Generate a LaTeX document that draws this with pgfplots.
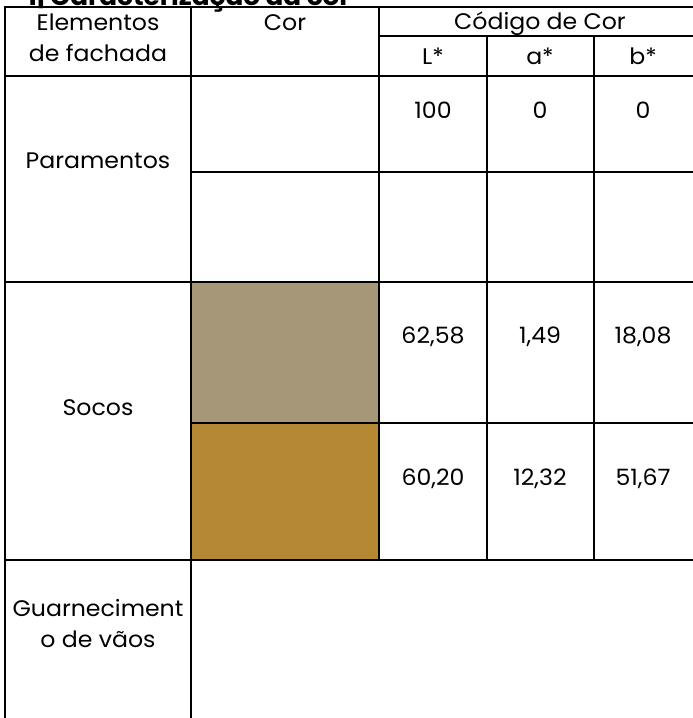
\documentclass[border=0pt]{standalone}
\usepackage{pgfplots}
\pgfplotsset{compat=1.18}
\usepackage{fontspec}
\setmainfont{Poppins}[FakeStretch=1.05]
\definecolor{swA}{RGB}{165,151,120}
\definecolor{swB}{RGB}{181,136,51}
\newcommand\f{\fontsize{22.5}{26}\selectfont}
\begin{document}
\begin{tikzpicture}
\begin{axis}[
  width=693pt, height=718pt, scale only axis,
  xmin=0, xmax=693, ymin=0, ymax=718, y dir=reverse,
  hide axis, clip=true,
]
% background
\addplot[fill=white, draw=none] coordinates {(0,0) (693,0) (693,718) (0,718)} -- cycle;
% colour swatches
\addplot[fill=swA, draw=none] coordinates {(191,282) (380,282) (380,423) (191,423)} -- cycle;
\addplot[fill=swB, draw=none] coordinates {(191,423) (380,423) (380,560) (191,560)} -- cycle;
% grid lines
\pgfplotsset{every axis plot/.append style={line width=2.4pt, black}}
\addplot[no marks] coordinates {(5,7) (5,718)};
\addplot[no marks] coordinates {(191,7) (191,718)};
\addplot[no marks] coordinates {(379,7) (379,560)};
\addplot[no marks] coordinates {(487,36) (487,560)};
\addplot[no marks] coordinates {(594,36) (594,560)};
\addplot[no marks] coordinates {(4,7) (693,7)};
\addplot[no marks] coordinates {(379,36) (693,36)};
\addplot[no marks] coordinates {(4,76) (693,76)};
\addplot[no marks] coordinates {(191,172) (693,172)};
\addplot[no marks] coordinates {(4,282) (693,282)};
\addplot[no marks] coordinates {(191,423) (693,423)};
\addplot[no marks] coordinates {(4,560) (693,560)};
% title (clipped at top, as in the reference)
\node[anchor=base west, inner sep=0pt] at (axis cs:27,5) {\fontsize{25}{28}\selectfont\bfseries 1| Caracterização da cor};
% header
\node[anchor=base, inner sep=0pt] at (axis cs:98,30) {\f Elementos};
\node[anchor=base, inner sep=0pt] at (axis cs:98,61) {\f de fachada};
\node[anchor=base, inner sep=0pt] at (axis cs:285,30) {\f Cor};
\node[anchor=base, inner sep=0pt] at (axis cs:540,29) {\f Código de Cor};
\node[anchor=base, inner sep=0pt] at (axis cs:433,64) {\f L*};
\node[anchor=base, inner sep=0pt] at (axis cs:540,64) {\f a*};
\node[anchor=base, inner sep=0pt] at (axis cs:643,64) {\f b*};
% row labels
\node[inner sep=0pt] at (axis cs:98,161) {\f Paramentos};
\node[inner sep=0pt] at (axis cs:98,408) {\f Socos};
\node[inner sep=0pt] at (axis cs:98,608) {\f Guarneciment};
\node[inner sep=0pt] at (axis cs:98,639) {\f o de vãos};
% values
\node[inner sep=0pt] at (axis cs:433,110) {\f 100};
\node[inner sep=0pt] at (axis cs:540,110) {\f 0};
\node[inner sep=0pt] at (axis cs:643,110) {\f 0};
\node[inner sep=0pt] at (axis cs:433,337) {\f 62,58};
\node[inner sep=0pt] at (axis cs:540,337) {\f 1,49};
\node[inner sep=0pt] at (axis cs:643,337) {\f 18,08};
\node[inner sep=0pt] at (axis cs:433,479) {\f 60,20};
\node[inner sep=0pt] at (axis cs:540,479) {\f 12,32};
\node[inner sep=0pt] at (axis cs:643,479) {\f 51,67};
\end{axis}
\end{tikzpicture}
\end{document}
